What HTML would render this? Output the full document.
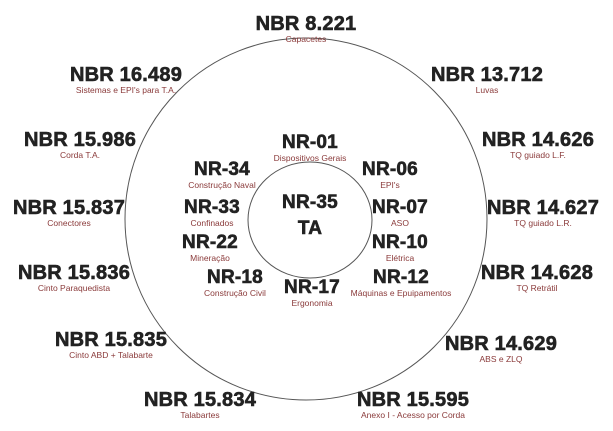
<!DOCTYPE html>
<html><head><meta charset="utf-8"><style>
body{margin:0;width:613px;height:428px;background:#fff;position:relative;overflow:hidden;font-family:"Liberation Sans",sans-serif}
#w{position:absolute;left:0;top:3px;width:613px;height:428px}
.l{position:absolute;width:240px;margin-left:-120px;text-align:center}
.t{font-weight:bold;font-size:20px;line-height:20px;color:#222;-webkit-text-stroke:0.6px #222;letter-spacing:0.2px}
.s{font-size:8.5px;line-height:10px;color:#8a3a3a;margin-top:0px}
.n .t{font-size:19px}
</style></head><body>
<svg width="613" height="428" style="position:absolute;left:0;top:0">
<circle cx="306" cy="219" r="181" fill="none" stroke="#555" stroke-width="1"/>
<ellipse cx="310" cy="220" rx="62" ry="58" fill="none" stroke="#555" stroke-width="1"/>
</svg>
<div id="w">
<div class="l" style="left:306px;top:11px"><div class="t">NBR 8.221</div><div class="s">Capacetes</div></div>
<div class="l" style="left:126px;top:62px"><div class="t">NBR 16.489</div><div class="s">Sistemas e EPI's para T.A.</div></div>
<div class="l" style="left:80px;top:127px"><div class="t">NBR 15.986</div><div class="s">Corda T.A.</div></div>
<div class="l" style="left:69px;top:195px"><div class="t">NBR 15.837</div><div class="s">Conectores</div></div>
<div class="l" style="left:74px;top:260px"><div class="t">NBR 15.836</div><div class="s">Cinto Paraquedista</div></div>
<div class="l" style="left:111px;top:327px"><div class="t">NBR 15.835</div><div class="s">Cinto ABD + Talabarte</div></div>
<div class="l" style="left:200px;top:387px"><div class="t">NBR 15.834</div><div class="s">Talabartes</div></div>
<div class="l" style="left:413px;top:387px"><div class="t">NBR 15.595</div><div class="s">Anexo I - Acesso por Corda</div></div>
<div class="l" style="left:501px;top:331px"><div class="t">NBR 14.629</div><div class="s">ABS e ZLQ</div></div>
<div class="l" style="left:537px;top:260px"><div class="t">NBR 14.628</div><div class="s">TQ Retrátil</div></div>
<div class="l" style="left:543px;top:195px"><div class="t">NBR 14.627</div><div class="s">TQ guiado L.R.</div></div>
<div class="l" style="left:538px;top:127px"><div class="t">NBR 14.626</div><div class="s">TQ guiado L.F.</div></div>
<div class="l" style="left:487px;top:62px"><div class="t">NBR 13.712</div><div class="s">Luvas</div></div>

<div class="l n" style="left:310px;top:130px"><div class="t">NR-01</div><div class="s">Dispositivos Gerais</div></div>
<div class="l n" style="left:222px;top:157px"><div class="t">NR-34</div><div class="s">Construção Naval</div></div>
<div class="l n" style="left:390px;top:157px"><div class="t">NR-06</div><div class="s">EPI's</div></div>
<div class="l n" style="left:212px;top:195px"><div class="t">NR-33</div><div class="s">Confinados</div></div>
<div class="l n" style="left:400px;top:195px"><div class="t">NR-07</div><div class="s">ASO</div></div>
<div class="l n" style="left:210px;top:230px"><div class="t">NR-22</div><div class="s">Mineração</div></div>
<div class="l n" style="left:400px;top:230px"><div class="t">NR-10</div><div class="s">Elétrica</div></div>
<div class="l n" style="left:235px;top:265px"><div class="t">NR-18</div><div class="s">Construção Civil</div></div>
<div class="l n" style="left:401px;top:265px"><div class="t">NR-12</div><div class="s">Máquinas e Epuipamentos</div></div>
<div class="l n" style="left:312px;top:275px"><div class="t">NR-17</div><div class="s">Ergonomia</div></div>
<div class="l n" style="left:310px;top:190px"><div class="t">NR-35</div></div>
<div class="l n" style="left:310px;top:216px"><div class="t">TA</div></div>
</div>
</body></html>
